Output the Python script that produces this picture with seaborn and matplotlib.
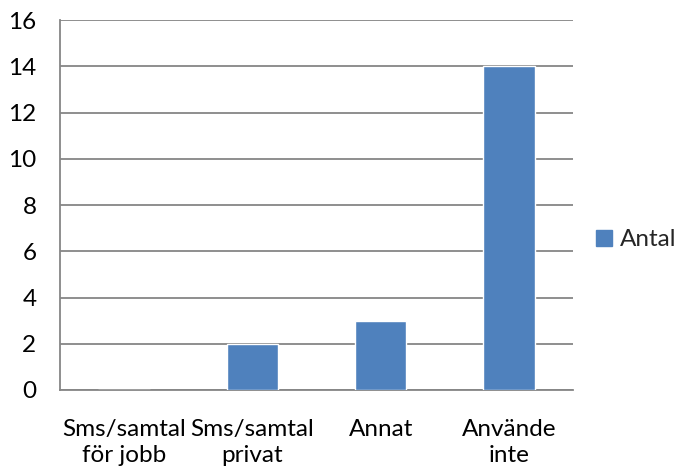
import matplotlib
matplotlib.use("Agg")
import matplotlib.pyplot as plt
import seaborn as sns
import pandas as pd
from matplotlib.patches import Patch

categories = ["Sms/samtal\nför jobb", "Sms/samtal\nprivat", "Annat", "Använde\ninte"]
antal = [0, 2, 3, 14]
series_name = "Antal"
y_ticks = [0, 2, 4, 6, 8, 10, 12, 14, 16]

sns.set_theme(style="white")
plt.rcParams["font.family"] = ["Lato", "DejaVu Sans"]

bar_color = "#4F81BD"
grid_color = "#868686"
font_size = 17.5

df = pd.DataFrame({"Kategori": categories, series_name: antal})

fig = plt.figure(figsize=(6.77, 4.68), dpi=100)
ax = fig.add_axes([60 / 677, 1 - 390 / 468, (573 - 60) / 677, (390 - 20) / 468])

sns.barplot(data=df, x="Kategori", y=series_name, color=bar_color, saturation=1,
            width=0.4, ax=ax, zorder=3)

ax.set_ylim(0, 16)
ax.set_yticks(y_ticks)
ax.set_xlim(-0.5, len(categories) - 0.5)
ax.yaxis.grid(True, color=grid_color, linewidth=1.3, zorder=0)
ax.set_axisbelow(True)
ax.set_xlabel("")
ax.set_ylabel("")

for side in ["top", "right"]:
    ax.spines[side].set_visible(False)
for side in ["left", "bottom"]:
    ax.spines[side].set_color(grid_color)
    ax.spines[side].set_linewidth(1.3)

ax.tick_params(axis="y", length=0, pad=17, labelsize=font_size, labelcolor="black")
ax.tick_params(axis="x", length=0, pad=21, labelsize=font_size, labelcolor="black")
for lbl in ax.get_xticklabels():
    lbl.set_linespacing(1.3)

handles = [Patch(facecolor=bar_color, edgecolor=bar_color)]
fig.legend(handles, [series_name], loc="center left", bbox_to_anchor=(596 / 677, 1 - 240 / 468),
           frameon=False, fontsize=font_size, handlelength=0.65, handleheight=0.65,
           handletextpad=0.35, borderaxespad=0, borderpad=0)

fig.savefig("out.png", dpi=100)
